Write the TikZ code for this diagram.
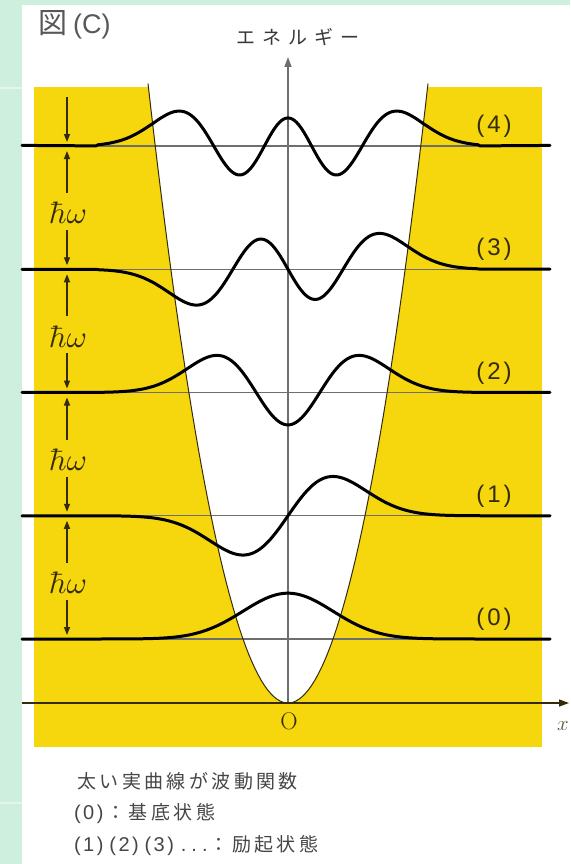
\documentclass[tikz,border=0pt]{standalone}
\usepackage{fontspec}
\setsansfont{Liberation Sans}
\newfontfamily\jpbody[LetterSpace=18]{Noto Sans CJK JP}
\newfontfamily\jpaxis[LetterSpace=38]{Noto Sans CJK JP}
\newfontfamily\jptitle{Noto Sans CJK JP}
\newfontfamily\labfont[LetterSpace=12]{Liberation Sans}
\usetikzlibrary{arrows.meta}
\definecolor{bggreen}{RGB}{206,238,222}
\definecolor{bgline}{RGB}{226,247,236}
\definecolor{gold}{RGB}{246,214,12}
\definecolor{olive}{RGB}{52,44,8}
\definecolor{axisgray}{RGB}{110,110,110}
\definecolor{textgray}{RGB}{70,70,70}
\tikzset{
  levelline/.style={draw=axisgray, line width=1.3pt},
  wave/.style={draw=black, line width=3pt, line join=round, line cap=round},
  potential/.style={draw=olive, line width=1pt},
  dimarrow/.style={draw=olive, line width=1.4pt, -{Triangle[length=8pt,width=6pt]}},
  numlab/.style={text=olive, font=\labfont\fontsize{24}{26}\selectfont, inner sep=0pt},
  hwlab/.style={text=olive, inner sep=0pt},
  jptext/.style={text=textgray, anchor=west, inner sep=0pt, font=\jpbody\fontsize{19}{21}\selectfont},
}
\begin{document}
\begin{tikzpicture}[x=1pt,y=-1pt,
  declare function={
    xi(\t)=((\t)-288)/45;
    ga(\t)=exp(-0.5*xi(\t)*xi(\t));
    psiA(\t)=0.7511*ga(\t);
    psiB(\t)=1.0622*xi(\t)*ga(\t);
    psiC(\t)=(1.0621*xi(\t)*xi(\t)-0.5311)*ga(\t);
    psiD(\t)=(0.8673*xi(\t)*xi(\t)-1.3009)*xi(\t)*ga(\t);
    psiE(\t)=((0.6133*xi(\t)*xi(\t)-1.8398)*xi(\t)*xi(\t)+0.4599)*ga(\t);
  }]
\useasboundingbox (0,0) rectangle (570,864);
% backgrounds
\fill[bggreen] (0,0) rectangle (570,864);
\draw[bgline, line width=1.2pt] (0,88) -- (22,88);
\draw[bgline, line width=1.2pt] (0,803) -- (22,803);
\fill[white] (22,5) rectangle (570,864);
\fill[gold] (34,87) rectangle (542,747);
% inside of the potential
\fill[white] plot[domain=-140:140, samples=90] ({288+\x}, {703-64*(\x/45)*(\x/45)}) -- cycle;
% level lines
\foreach \yy in {639,515.75,392.5,269.25,146} {
  \draw[levelline] (22,\yy) -- (550,\yy);
}
% axes
\coordinate (O) at (288,703);
\coordinate (Etip) at (288,57);
\coordinate (xstart) at (22,703);
\coordinate (xtip) at (569,703);
\draw[draw=axisgray, line width=1.5pt, -{Triangle[length=10pt,width=7pt]}] (O) -- (Etip);
\draw[draw=olive, line width=1.3pt, -{Triangle[length=10pt,width=7pt]}] (xstart) -- (xtip);
% potential
\draw[potential] plot[domain=-140:140, samples=90] ({288+\x}, {703-64*(\x/45)*(\x/45)});
% wavefunctions
\draw[wave] plot[domain=22:550, samples=265] (\x, {639-61*psiA(\x)});
\draw[wave] plot[domain=22:550, samples=265] (\x, {515.75-61*psiB(\x)});
\draw[wave] plot[domain=22:550, samples=265] (\x, {392.5-61*psiC(\x)});
\draw[wave] plot[domain=22:550, samples=265] (\x, {269.25-61*psiD(\x)});
\draw[wave] plot[domain=22:550, samples=265] (\x, {146-61*psiE(\x)});
% level labels
\node[numlab] (n4) at (494,126) {(4)};
\node[numlab] (n3) at (494,249) {(3)};
\node[numlab] (n2) at (494,373) {(2)};
\node[numlab] (n1) at (494,496) {(1)};
\node[numlab] (n0) at (494,619) {(0)};
% hbar omega spacing marks
\coordinate (topA) at (67,97);
\coordinate (topB) at (67,142);
\draw[dimarrow] (topA) -- (topB);
\foreach \k/\yu/\yl in {4/146/269.25, 3/269.25/392.5, 2/392.5/515.75, 1/515.75/639} {
  \node[hwlab] (hw\k) at (68,\yu+67) {\scalebox{3.1}{$\hbar\omega$}};
  \coordinate (ua\k) at (67,\yu+47);
  \coordinate (ut\k) at (67,\yu+5);
  \coordinate (da\k) at (67,\yu+84);
  \coordinate (dt\k) at (67,\yl-4);
  \draw[dimarrow] (ua\k) -- (ut\k);
  \draw[dimarrow] (da\k) -- (dt\k);
}
% axis labels
\node[text=olive, inner sep=0pt, font=\fontsize{24}{26}\selectfont] (Olab) at (289,721) {O};
\node[text=olive!80, inner sep=0pt, font=\fontsize{21}{23}\selectfont] (xlab) at (563,726) {$x$};
\node[text=textgray!80!black, inner sep=0pt, font=\jpaxis\fontsize{19}{21}\selectfont] (Elab) at (298,37) {エネルギー};
% title
\node[text=textgray!90, anchor=west, inner sep=0pt, font=\jptitle\fontsize{29}{31}\selectfont] (title) at (38,25) {図\hspace{6pt}{\sffamily\fontsize{27}{29}\selectfont (C)}};
% legend
\node[jptext] (leg1) at (77,781) {太い実曲線が波動関数};
\node[jptext] (leg2) at (74,814) {{\labfont\fontsize{20}{22}\selectfont (0)}\hspace{3pt}：基底状態};
\node[jptext] (leg3) at (74,846) {{\labfont\fontsize{20}{22}\selectfont (1)\hspace{6pt}(2)\hspace{6pt}(3)\hspace{7pt}.\hspace{5pt}.\hspace{5pt}.}\hspace{2pt}：励起状態};
\end{tikzpicture}
\end{document}
